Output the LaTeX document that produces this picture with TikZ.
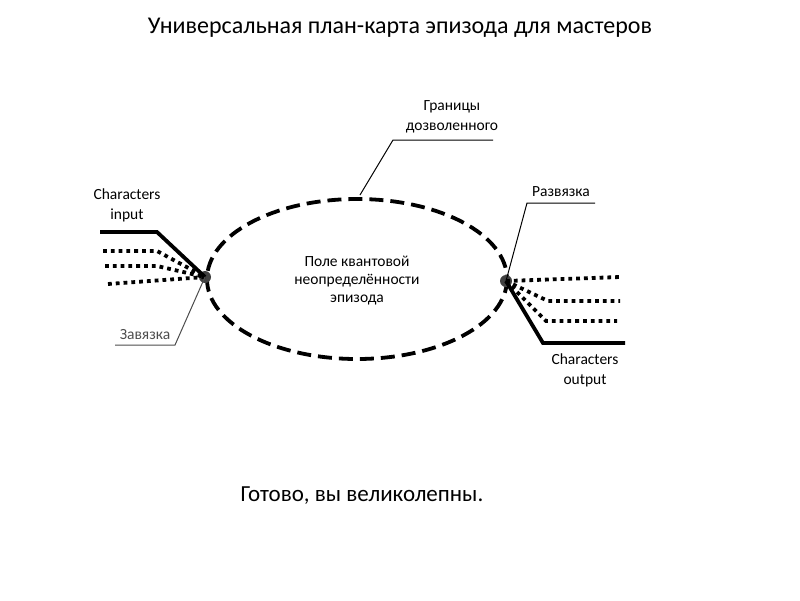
\documentclass[tikz,border=0pt]{standalone}
\usepackage{fontspec}
\setmainfont{Carlito}
\begin{document}
\begin{tikzpicture}[x=1pt,y=-1pt,
  thick line/.style={line width=3.8pt},
  dots/.style={line width=3.8pt,dash pattern=on 3.8pt off 4pt},
  dash ell/.style={line width=3.8pt,dash pattern=on 14pt off 7pt},
  leader/.style={line width=1pt},
  lbl/.style={font=\fontsize{15.5}{17}\selectfont,align=center,inner sep=0pt}]
\useasboundingbox (0,0) rectangle (800,600);
\node[font=\fontsize{24}{28}\selectfont] (title) at (400,28) {Универсальная план-карта эпизода для мастеров};
\draw[dash ell] (357,279) ellipse [x radius=150, y radius=80];
\node[lbl] (center) at (357,281) {Поле квантовой\\[1pt]неопределённости\\[1pt]эпизода};
\node[circle,fill=black!75,minimum size=12pt,inner sep=0pt] (L) at (205,277) {};
\node[circle,fill=black!75,minimum size=12pt,inner sep=0pt] (R) at (506,281) {};
\coordinate (l1) at (100,232); \coordinate (l1b) at (157,232);
\coordinate (l2) at (103,251); \coordinate (l2b) at (157,251);
\coordinate (l3) at (105,266); \coordinate (l3b) at (157,266);
\coordinate (l4) at (108,284);
\draw[thick line] (l1) -- (l1b) -- (L.center);
\draw[dots] (l2) -- (l2b) -- (L.center);
\draw[dots] (l3) -- (l3b) -- (L.center);
\draw[dots] (l4) -- (L.center);
\coordinate (r1) at (620,277);
\coordinate (r2a) at (548,301); \coordinate (r2) at (620,301);
\coordinate (r3a) at (546,321); \coordinate (r3) at (617,321);
\coordinate (r4a) at (543,343); \coordinate (r4) at (625,343);
\draw[dots] (R.center) -- (r1);
\draw[dots] (R.center) -- (r2a) -- (r2);
\draw[dots] (R.center) -- (r3a) -- (r3);
\draw[thick line] (R.center) -- (r4a) -- (r4);
\node[lbl] (cin) at (127,205) {Characters\\[3pt]input};
\node[lbl] (cout) at (585,370) {Characters\\[3pt]output};
\node[lbl] (gran) at (452,117) {Границы\\[3pt]дозволенного};
\coordinate (g1) at (360,195); \coordinate (g2) at (393,140); \coordinate (g3) at (493,140);
\draw[leader] (g1) -- (g2) -- (g3);
\node[lbl] (razv) at (561,192) {Развязка};
\coordinate (p1) at (527,203); \coordinate (p2) at (595,203);
\draw[leader] (R.center) -- (p1) -- (p2);
\node[lbl,text=black!70] (zav) at (145,335) {Завязка};
\coordinate (z1) at (175,345); \coordinate (z2) at (115,345);
\draw[leader,black!70] (L.center) -- (z1) -- (z2);
\node[font=\fontsize{23}{27}\selectfont] (done) at (362,496) {Готово, вы великолепны.};
\end{tikzpicture}
\end{document}
